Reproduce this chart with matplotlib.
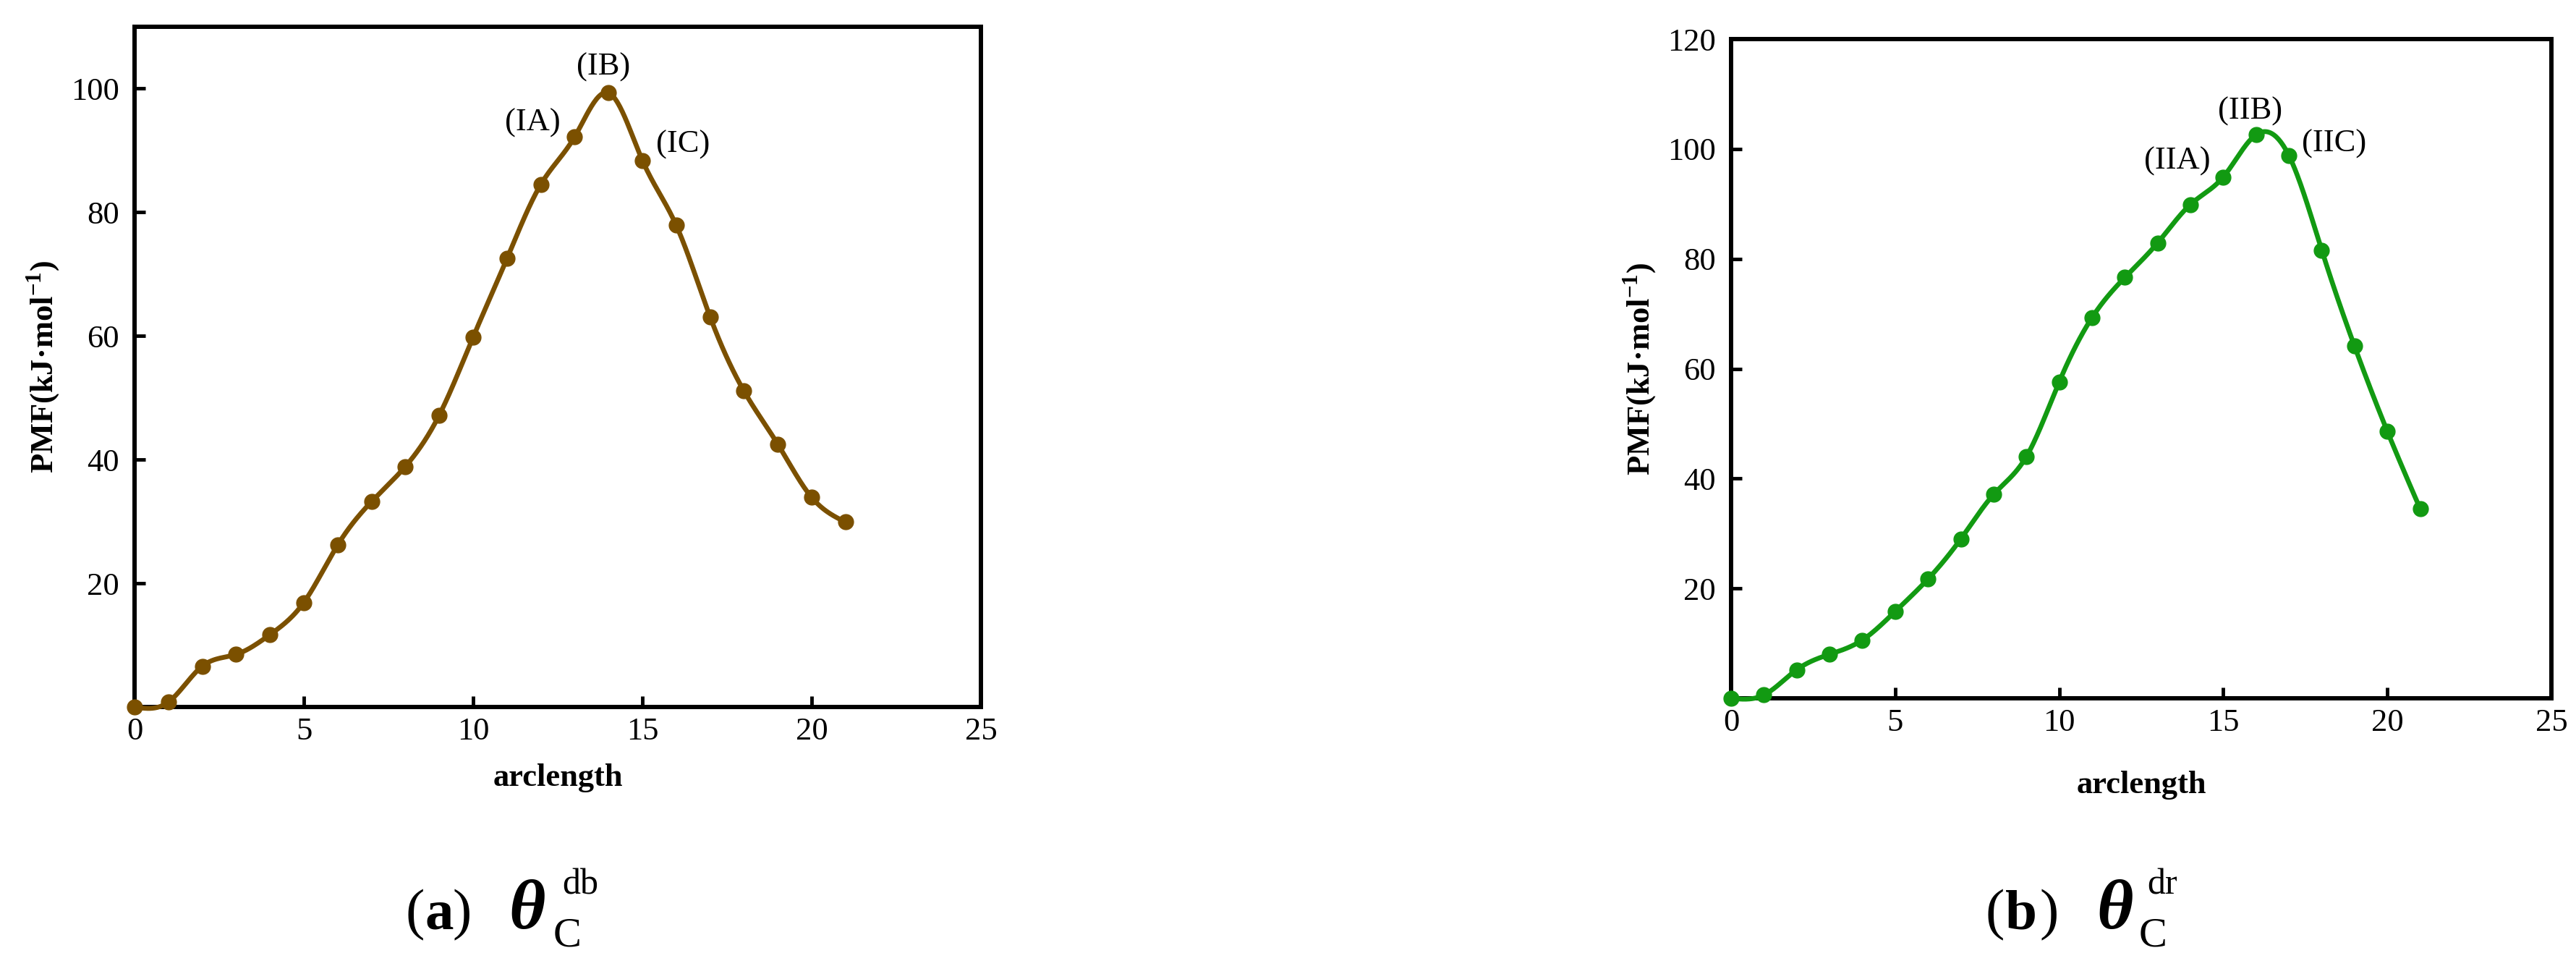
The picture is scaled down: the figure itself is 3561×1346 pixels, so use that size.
import numpy as np
import matplotlib
matplotlib.use("Agg")
import matplotlib.pyplot as plt

# |====| data section
arclength = list(range(22))
pmf_db = [0.0, 0.8, 6.6, 8.5, 11.7, 16.9, 26.2, 33.2, 38.9, 47.2, 59.8,
          72.5, 84.5, 92.2, 99.3, 88.4, 77.9, 63.1, 51.1, 42.5, 33.9, 29.9]
pmf_dr = [0.0, 0.6, 5.2, 8.0, 10.6, 15.8, 21.7, 29.0, 37.1, 44.0, 57.6,
          69.3, 76.6, 82.9, 89.9, 94.9, 102.6, 98.8, 81.6, 64.1, 48.6, 34.5]

labels_db = ["(IA)", "(IB)", "(IC)"]
labels_db_xy = [(11.76, 94.5), (13.84, 103.5), (16.2, 91.0)]
labels_dr = ["(IIA)", "(IIB)", "(IIC)"]
labels_dr_xy = [(13.6, 97.7), (15.82, 106.8), (18.38, 100.9)]

xticks = [0, 5, 10, 15, 20, 25]
yticks_db = [20, 40, 60, 80, 100]
yticks_dr = [20, 40, 60, 80, 100, 120]

col_db = "#7b5000"
col_dr = "#129a12"

W, H = 3561, 1346
plt.rcParams['font.family'] = ['Liberation Serif', 'DejaVu Serif']
plt.rcParams['mathtext.fontset'] = 'custom'
plt.rcParams['mathtext.rm'] = 'Liberation Serif'
plt.rcParams['mathtext.bf'] = 'Liberation Serif:bold'


def spline_line(x, y, n=600):
    # natural cubic spline, like the "spline" connect in Origin
    x = np.asarray(x, float)
    y = np.asarray(y, float)
    k = len(x)
    h = np.diff(x)
    A = np.zeros((k, k))
    b = np.zeros(k)
    A[0, 0] = A[-1, -1] = 1
    for i in range(1, k - 1):
        A[i, i - 1] = h[i - 1]
        A[i, i] = 2 * (h[i - 1] + h[i])
        A[i, i + 1] = h[i]
        b[i] = 6 * ((y[i + 1] - y[i]) / h[i] - (y[i] - y[i - 1]) / h[i - 1])
    M = np.linalg.solve(A, b)
    xs = np.linspace(x[0], x[-1], n)
    idx = np.clip(np.searchsorted(x, xs) - 1, 0, k - 2)
    x0, x1 = x[idx], x[idx + 1]
    hh = x1 - x0
    t0, t1 = x1 - xs, xs - x0
    ys = (M[idx] * t0 ** 3 + M[idx + 1] * t1 ** 3) / (6 * hh) \
        + (y[idx] / hh - M[idx] * hh / 6) * t0 \
        + (y[idx + 1] / hh - M[idx + 1] * hh / 6) * t1
    return xs, ys


fig = plt.figure(figsize=(W / 100, H / 100), dpi=100)

panels = [
    ([186 / W, 1 - 977 / H, 1170 / W, 940 / H], pmf_db, col_db, 110, yticks_db,
     labels_db, labels_db_xy, -0.104),
    ([2393 / W, 1 - 965 / H, 1134 / W, 911 / H], pmf_dr, col_dr, 120, yticks_dr,
     labels_dr, labels_dr_xy, -0.132),
]

for rect, pmf, col, ytop, yt, labs, labxy, xlab_y in panels:
    ax = fig.add_axes(rect)
    xs, ys = spline_line(arclength, pmf)
    ax.plot(xs, ys, color=col, lw=4.8, clip_on=False, zorder=3)
    ax.plot(arclength, pmf, 'o', color=col, ms=15, clip_on=False, zorder=4)
    for t, (lx, ly) in zip(labs, labxy):
        ax.text(lx, ly, t, fontsize=32, ha='center', va='center')
    ax.set_xlim(0, 25)
    ax.set_ylim(0, ytop)
    ax.set_xticks(xticks)
    ax.set_yticks(yt)
    ax.tick_params(direction='in', length=11, width=3.5, labelsize=32)
    ax.tick_params(axis='x', pad=10)
    ax.tick_params(axis='y', pad=15)
    for s in ax.spines.values():
        s.set_linewidth(4.3)
    ax.set_xlabel('arclength', fontsize=32, fontweight='bold', va='center')
    ax.xaxis.set_label_coords(0.5, xlab_y)
    ax.set_ylabel(r'PMF(kJ·mol$^{\mathbf{-1}}$)', fontsize=32, fontweight='bold', va='center')
    ax.yaxis.set_label_coords(-126 / (rect[2] * W), 0.5)

# |====| captions under the panels
def caption(x_par, letter, x_close, sup, x_theta, x_c, x_sup):
    yb = 1 - 1283 / H
    fig.text(x_par / W, yb, "(", fontsize=57, va='baseline')
    fig.text((x_par + 27) / W, yb, letter, fontsize=57, fontweight='bold', va='baseline')
    fig.text(x_close / W, yb, ")", fontsize=57, va='baseline')
    fig.text(x_theta / W, yb, "θ", fontsize=70, fontweight='bold', style='italic', va='baseline')
    fig.text(x_c / W, 1 - 1308 / H, "C", fontsize=42, va='baseline')
    fig.text(x_sup / W, 1 - 1236 / H, sup, fontsize=36, va='baseline')


caption(560, "a", 626, "db", 703, 765, 777)
caption(2745, "b", 2820, "dr", 2898, 2957, 2968)

plt.savefig("out.png", dpi=100)
